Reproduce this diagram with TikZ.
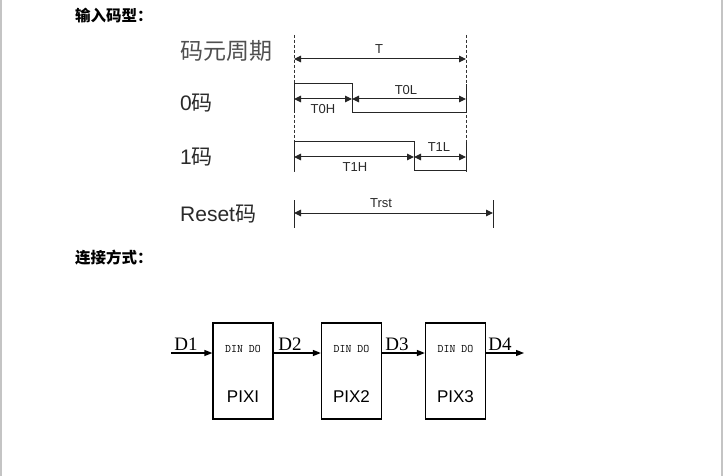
\documentclass[tikz,border=0pt]{standalone}
\usepackage{fontspec}
\setmainfont{Liberation Sans}
\newfontfamily\cjk{Noto Sans CJK SC}
\newfontfamily\serifD{Liberation Serif}
\usetikzlibrary{arrows.meta}
\definecolor{txt}{HTML}{2A2A2A}
\definecolor{lbl}{HTML}{505050}
\definecolor{frame}{HTML}{C4C4C4}
\tikzset{
  wave/.style={line width=1pt, draw=black!85},
  guide/.style={line width=0.7pt, dashed, dash pattern=on 3pt off 2pt, draw=black!80},
  dim/.style={line width=1pt, draw=black!85, {Triangle[length=7pt,width=6.5pt]}-{Triangle[length=7pt,width=6.5pt]}},
  tlab/.style={font=\fontsize{13}{15}\selectfont, text=txt, inner sep=0pt},
  rowlab/.style={font=\fontsize{21}{24}\selectfont, text=txt, anchor=west, inner sep=0pt},
  head/.style={font=\cjk\bfseries\fontsize{15.5}{17}\selectfont, anchor=west, inner sep=0pt},
  pix/.style={draw=black, line width=1.3pt, minimum width=60pt, minimum height=96pt, inner sep=0pt},
  feed/.style={line width=1.3pt, -{Triangle[length=8pt,width=6pt]}},
  dlab/.style={font=\serifD\fontsize{19}{21}\selectfont, anchor=south, inner sep=1pt},
  pin/.style={font=\ttfamily\fontsize{11.5}{12}\selectfont, inner sep=0pt},
  pname/.style={font=\fontsize{17}{19}\selectfont, inner sep=0pt}
}
\begin{document}
\begin{tikzpicture}[x=1pt,y=-1pt]
\useasboundingbox (0,0) rectangle (723,476);
\fill[white] (0,0) rectangle (723,476);
\draw[frame, line width=2pt] (1,0) -- (1,476);
\draw[frame, line width=2pt] (722,0) -- (722,476);

% headings
\node[head] (h1) at (75,16) {输入码型：};
\node[head] (h2) at (75,258) {连接方式：};

% row labels
\node[rowlab, text=lbl, font=\cjk\fontsize{23}{26}\selectfont] (r0) at (180,51) {码元周期};
\node[rowlab] (r1) at (180,103) {0{\cjk 码}};
\node[rowlab] (r2) at (180,157) {1{\cjk 码}};
\node[rowlab] (r3) at (180,214) {Reset{\cjk 码}};

% key coordinates
\coordinate (Ltop) at (294,35);
\coordinate (Lbot) at (294,172);
\coordinate (Rtop) at (466,35);
\coordinate (Rbot) at (466,172);

\draw[guide] (Ltop) -- (Lbot);
\draw[guide] (Rtop) -- (Rbot);

% T
\coordinate (Ta) at (294,59);
\coordinate (Tb) at (466,59);
\draw[dim] (Ta) -- (Tb);
\node[tlab] (Tl) at (379,49) {T};

% 0 code
\coordinate (z0) at (294,113);
\coordinate (z1) at (294,84);
\coordinate (z2) at (352,84);
\coordinate (z3) at (352,113);
\coordinate (z4) at (466,113);
\coordinate (z5) at (466,84);
\draw[wave] (z0) -- (z1) -- (z2) -- (z3) -- (z4) -- (z5);
\coordinate (a0) at (294,99);
\coordinate (a1) at (352,99);
\coordinate (a2) at (466,99);
\draw[dim] (a0) -- (a1);
\draw[dim] (a1) -- (a2);
\node[tlab] (t0h) at (323,109) {T0H};
\node[tlab] (t0l) at (406,90) {T0L};

% 1 code
\coordinate (o0) at (294,171);
\coordinate (o1) at (294,142);
\coordinate (o2) at (414,142);
\coordinate (o3) at (414,171);
\coordinate (o4) at (466,171);
\coordinate (o5) at (466,142);
\draw[wave] (o0) -- (o1) -- (o2) -- (o3) -- (o4) -- (o5);
\coordinate (b0) at (294,157);
\coordinate (b1) at (414,157);
\coordinate (b2) at (466,157);
\draw[dim] (b0) -- (b1);
\draw[dim] (b1) -- (b2);
\node[tlab] (t1h) at (355,167) {T1H};
\node[tlab] (t1l) at (439,147) {T1L};

% reset
\coordinate (s0) at (294,200);
\coordinate (s1) at (294,228);
\coordinate (s2) at (493,200);
\coordinate (s3) at (493,228);
\draw[wave] (s0) -- (s1);
\draw[wave] (s2) -- (s3);
\coordinate (c0) at (294,213);
\coordinate (c1) at (493,213);
\draw[dim] (c0) -- (c1);
\node[tlab] (trst) at (381,203) {Trst};

% connection
\node[pix] (p1) at (243,371) {};
\node[pix] (p2) at (351.5,371) {};
\node[pix] (p3) at (455.5,371) {};
\foreach \p/\n in {p1/PIXI,p2/PIX2,p3/PIX3}{
  \node[pin] at ([yshift=22pt]\p.center) {DIN DO};
  \node[pname] at ([yshift=-26pt]\p.center) {\n};
}
\coordinate (in) at (171,353);
\coordinate (out) at (524,353);
\draw[feed] (in) -- (in -| p1.west);
\draw[feed] (p1.east |- in) -- (in -| p2.west);
\draw[feed] (p2.east |- in) -- (in -| p3.west);
\draw[feed] (p3.east |- in) -- (out);
\node[dlab] (d1) at (186,352) {D1};
\node[dlab] (d2) at (290,352) {D2};
\node[dlab] (d3) at (397,352) {D3};
\node[dlab] (d4) at (500,352) {D4};
\end{tikzpicture}
\end{document}
